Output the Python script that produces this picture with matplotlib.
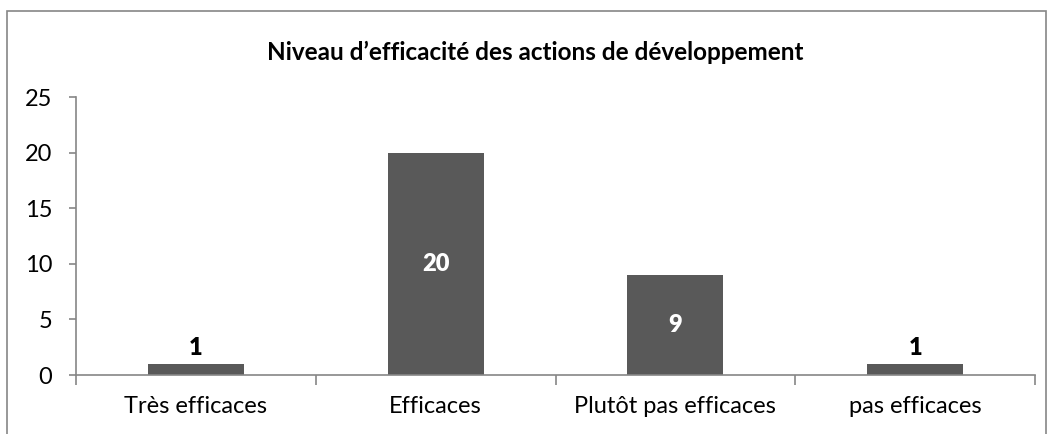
import matplotlib.pyplot as plt
from matplotlib.patches import Rectangle

plt.rcParams['font.family'] = ['Lato', 'DejaVu Sans']

categories = ['Très efficaces', 'Efficaces', 'Plutôt pas efficaces', 'pas efficaces']
values = [1, 20, 9, 1]
title = 'Niveau d\u2019efficacité des actions de développement'

bar_color = '#595959'
axis_color = '#868686'

fig = plt.figure(figsize=(10.54, 4.34), dpi=100)
ax = fig.add_axes([76 / 1054, 1 - 375 / 434, (1035 - 76) / 1054, (375 - 97) / 434])

x = list(range(len(categories)))
bars = ax.bar(x, values, width=0.4, color=bar_color, zorder=2)

ax.set_xlim(-0.5, len(categories) - 0.5)
ax.set_ylim(0, 25)
ax.set_yticks([0, 5, 10, 15, 20, 25])

ax.set_xticks(x)
ax.set_xticklabels(categories)
ax.set_xticks([i + 0.5 for i in range(-1, len(categories))], minor=True)
ax.tick_params(axis='x', which='major', length=0, pad=15, labelsize=17)
ax.tick_params(axis='x', which='minor', length=7, color=axis_color, width=1.2)
ax.tick_params(axis='y', length=5, color=axis_color, width=1.2, labelsize=17, pad=12)

for s in ['top', 'right']:
    ax.spines[s].set_visible(False)
for s in ['left', 'bottom']:
    ax.spines[s].set_color(axis_color)
    ax.spines[s].set_linewidth(1.2)

for b, v in zip(bars, values):
    cx = b.get_x() + b.get_width() / 2
    if v >= 5:
        ax.text(cx, v / 2, str(v), ha='center', va='center', color='white',
                fontsize=17, fontweight='heavy')
    else:
        ax.text(cx, v + 0.4, str(v), ha='center', va='bottom', color='black',
                fontsize=17, fontweight='heavy')

fig.text(535 / 1054, 1 - 52 / 434, title, ha='center', va='center',
         fontsize=17.5, fontweight='bold')

fig.patches.append(Rectangle((7 / 1054, -0.05), (1046 - 7) / 1054, 1.05 - 11 / 434,
                             transform=fig.transFigure, fill=False,
                             edgecolor=axis_color, linewidth=1.2))

fig.savefig('out.png', dpi=100)
